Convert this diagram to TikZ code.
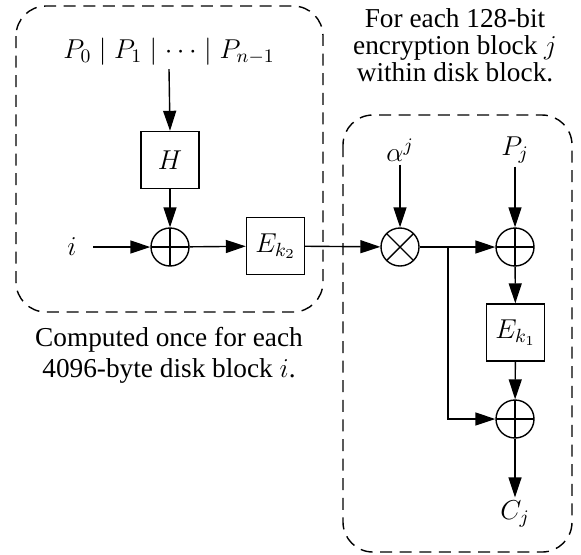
\RequirePackage{fix-cm}
\documentclass[tikz,border=0pt]{standalone}
\usepackage[no-math]{fontspec}
\setmainfont{LiberationSerif}[Extension=.ttf,UprightFont=*-Regular,ItalicFont=*-Italic,BoldFont=*-Bold,BoldItalicFont=*-BoldItalic]
\usetikzlibrary{arrows.meta}
\tikzset{
  lbl/.style={inner sep=1.5pt, font=\rmfamily\fontsize{13.65pt}{13.5pt}\selectfont},
  captxt/.style={align=center, inner sep=0pt, font=\rmfamily\fontsize{13.65pt}{13.5pt}\selectfont},
  blk/.style={draw, line width=0.7pt, minimum width=29pt, minimum height=28.5pt, inner sep=0pt, font=\rmfamily\fontsize{13.65pt}{13.5pt}\selectfont},
  xorop/.style={circle, draw, line width=0.7pt, minimum size=19pt, inner sep=0pt,
    path picture={\draw[line width=0.7pt] (path picture bounding box.north) -- (path picture bounding box.south)
      (path picture bounding box.west) -- (path picture bounding box.east);}},
  mulop/.style={circle, draw, line width=0.7pt, minimum size=19pt, inner sep=0pt,
    path picture={\draw[line width=0.7pt] (path picture bounding box.north west) -- (path picture bounding box.south east)
      (path picture bounding box.south west) -- (path picture bounding box.north east);}},
  arr/.style={line width=0.7pt, -{Triangle[length=10pt,width=6.5pt]}},
  dashbox/.style={line width=0.7pt, dash pattern=on 6pt off 3.8pt, rounded corners=15pt}
}
\begin{document}
\begin{tikzpicture}[x=0.5pt,y=-0.5pt]
\useasboundingbox (0,0) rectangle (581,554);
% dashed groups
\draw[dashbox] (16,6) rectangle (323,312);
\draw[dashbox] (343,115) rectangle (572,552);
% left part
\node[lbl] (pin) at (169,52) {$P_0 \mid P_1 \mid \cdots \mid P_{n-1}$};
\node[blk] (H) at (170,160) {$H$};
\node[xorop] (x1) at (170,247) {};
\node[lbl] (i) at (72,247) {$i$};
\node[blk] (E2) at (275.5,246) {$E_{k_2}$};
\draw[arr] (pin.south) -- (H.north);
\draw[arr] (H) -- (x1);
\draw[arr] (i) ++(21,0) coordinate (istart) -- (x1.west);
\draw[arr] (x1) -- (E2);
% right part
\node[lbl] (alpha) at (400,150) {$\alpha^j$};
\node[lbl] (Pj) at (515,150) {$P_j$};
\node[mulop] (m) at (400,247) {};
\node[xorop] (x2) at (515,247) {};
\node[blk] (E1) at (515.5,332.5) {$E_{k_1}$};
\node[xorop] (x3) at (515,419) {};
\node[lbl] (Cj) at (515,514) {$C_j$};
\coordinate (br) at (448,247);
\draw[arr] (E2) -- (m);
\draw[arr] (alpha) -- (m);
\draw[arr] (Pj) -- (x2);
\draw[arr] (m) -- (x2);
\draw[arr] (x2) -- (E1);
\draw[arr] (E1) -- (x3);
\draw[arr] (br) |- (x3.west);
\draw[arr] (x3) -- (Cj);
% captions
\node[captxt] (c1) at (455,45) {For each 128-bit\\encryption block $j$\\within disk block.};
\node[captxt] (c2) at (169,355) {Computed once for each\\[2pt]4096-byte disk block $i$.};
\end{tikzpicture}
\end{document}
